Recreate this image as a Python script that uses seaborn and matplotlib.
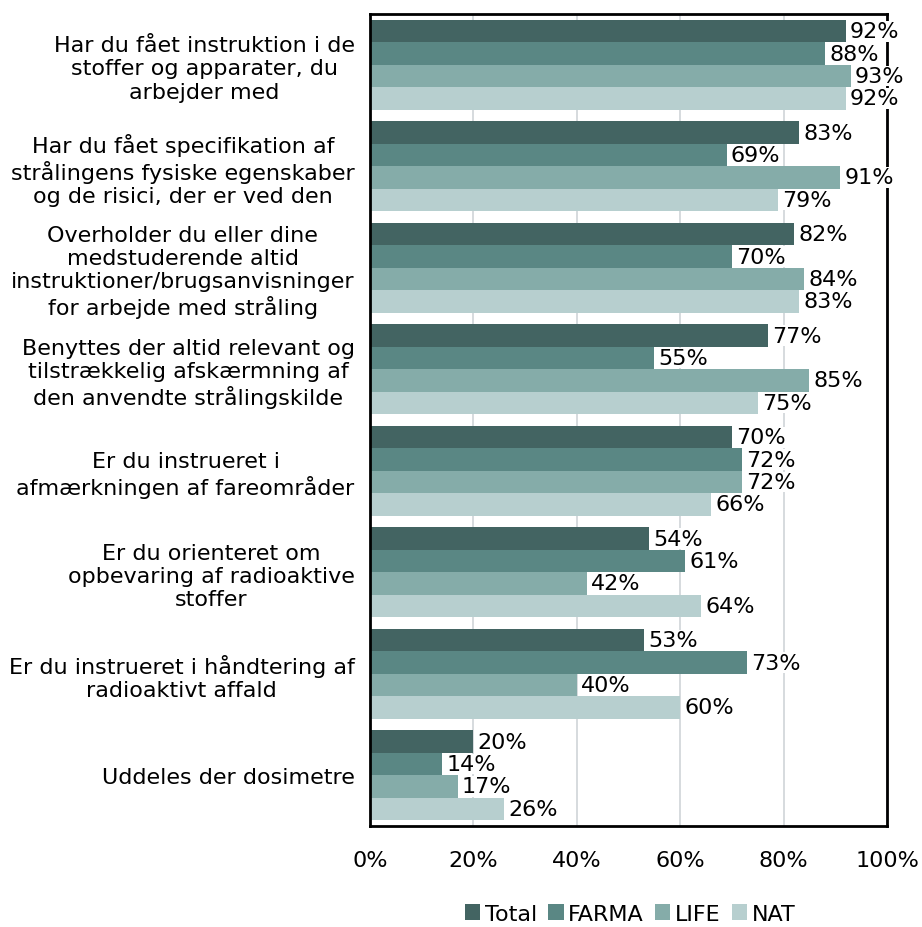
import matplotlib
matplotlib.use("Agg")
import matplotlib.pyplot as plt
import seaborn as sns
import pandas as pd

questions = [
    "Har du fået instruktion i de\nstoffer og apparater, du\narbejder med",
    "Har du fået specifikation af\nstrålingens fysiske egenskaber\nog de risici, der er ved den",
    "Overholder du eller dine\nmedstuderende altid\ninstruktioner/brugsanvisninger\nfor arbejde med stråling",
    "Benyttes der altid relevant og\ntilstrækkelig afskærmning af\nden anvendte strålingskilde",
    "Er du instrueret i\nafmærkningen af fareområder",
    "Er du orienteret om\nopbevaring af radioaktive\nstoffer",
    "Er du instrueret i håndtering af\nradioaktivt affald",
    "Uddeles der dosimetre",
]
groups = ["Total", "FARMA", "LIFE", "NAT"]
total = [92, 83, 82, 77, 70, 54, 53, 20]
farma = [88, 69, 70, 55, 72, 61, 73, 14]
life = [93, 91, 84, 85, 72, 42, 40, 17]
nat = [92, 79, 83, 75, 66, 64, 60, 26]
colors = ["#436462", "#5a8784", "#85aca9", "#b7cfcf"]

rows = []
for g, vals in zip(groups, [total, farma, life, nat]):
    for q, v in zip(questions, vals):
        rows.append({"question": q, "group": g, "value": v})
df = pd.DataFrame(rows)

sns.set_style("white")
plt.rcParams["font.family"] = ["DejaVu Sans"]
plt.rcParams["text.color"] = "black"
plt.rcParams["xtick.color"] = "black"
plt.rcParams["ytick.color"] = "black"

FS = 16

fig = plt.figure(figsize=(9.22, 9.28), dpi=100)
ax = fig.add_axes([370 / 922, 1 - 827 / 928, 517 / 922, 812 / 928])

sns.barplot(data=df, y="question", x="value", hue="group", orient="h",
            palette=colors, width=0.885, gap=0, ax=ax, errorbar=None,
            saturation=1, legend=True, linewidth=0, zorder=2)

for cont in ax.containers:
    ax.bar_label(cont, labels=[f"{v:.0f}%" for v in cont.datavalues],
                 padding=3, fontsize=FS, color="black",
                 bbox=dict(facecolor="white", edgecolor="none", pad=0.3))

ax.set_xlim(0, 100)
ax.set_xticks([0, 20, 40, 60, 80, 100])
ax.set_xticklabels([f"{t}%" for t in [0, 20, 40, 60, 80, 100]], fontsize=FS)
ax.tick_params(axis="x", length=0, pad=17)
ax.tick_params(axis="y", length=0, pad=11, labelsize=FS)
for lbl in ax.get_yticklabels():
    lbl.set_multialignment("center")
ax.grid(axis="x", color="#d0d4d8", linewidth=1.2, zorder=0)
ax.set_axisbelow(True)
ax.set_xlabel("")
ax.set_ylabel("")
for s in ax.spines.values():
    s.set_visible(True)
    s.set_color("black")
    s.set_linewidth(2)

handles, labels = ax.get_legend_handles_labels()
ax.legend(handles, labels, loc="center", bbox_to_anchor=(0.503, -0.108),
          ncol=4, frameon=False, fontsize=FS, handlelength=0.7,
          handleheight=0.7, handletextpad=0.2, columnspacing=0.5,
          borderaxespad=0)

fig.savefig("out.png", dpi=100)
